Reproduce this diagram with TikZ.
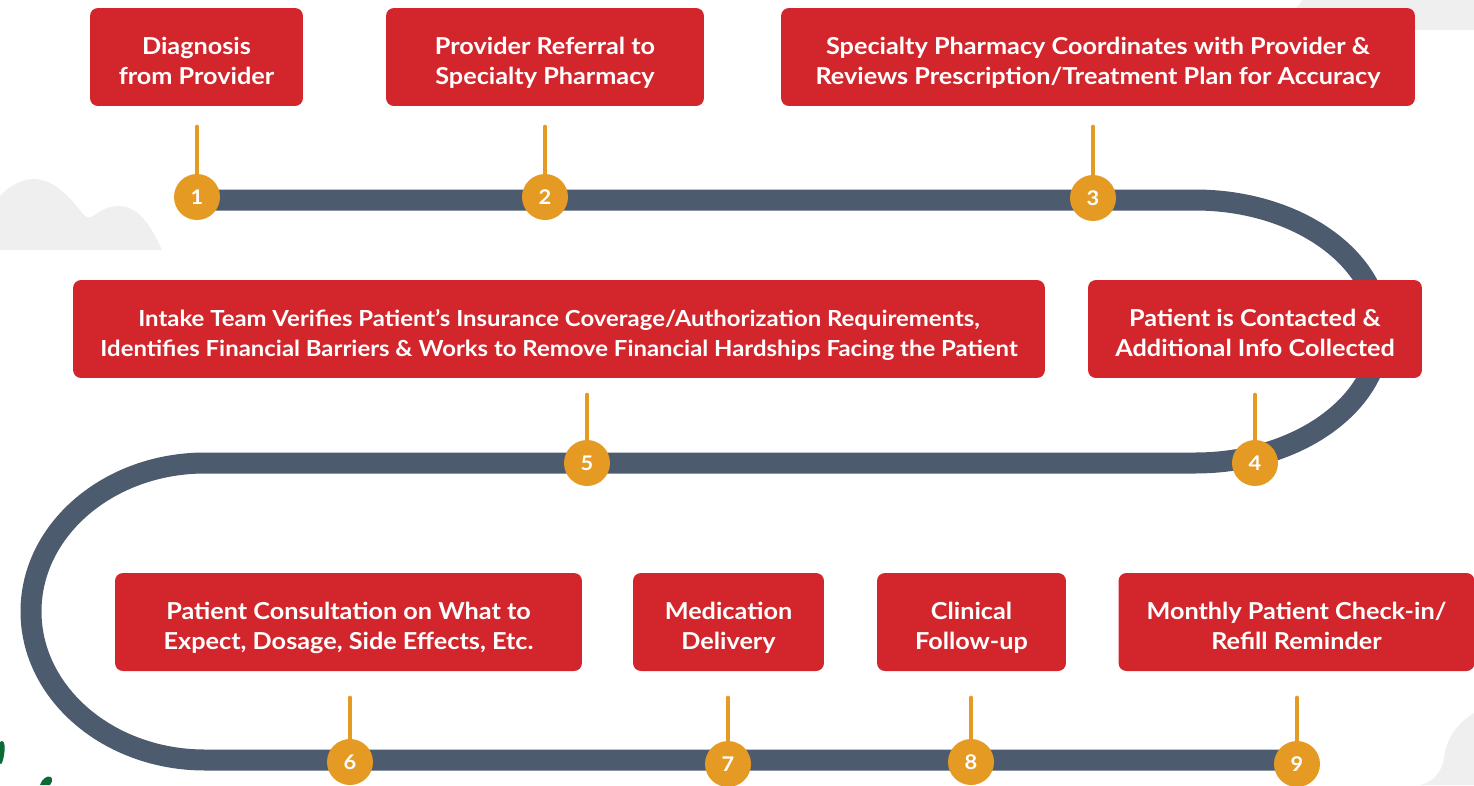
\documentclass[tikz,border=0pt]{standalone}
\usepackage{fontspec}
\setmainfont{Lato}[FakeStretch=1.08]
\usepackage{tikz}
\definecolor{stepred}{HTML}{D3262C}
\definecolor{gold}{HTML}{E59B23}
\definecolor{road}{HTML}{4D5B6F}
\definecolor{haze}{HTML}{EFEFEF}
\definecolor{leaf}{HTML}{0A6B35}
\tikzset{
  stepbox/.style={fill=stepred, rounded corners=4.5pt, text=white, align=center,
    inner sep=0pt, minimum height=1.96cm, text height=31pt, text depth=0pt,
    font=\fontsize{13.3}{17}\selectfont\bfseries},
  num/.style={circle, fill=gold, minimum size=0.92cm, inner sep=0pt, text=white,
    font=\fontsize{11.5}{12}\selectfont\bfseries},
  stem/.style={draw=gold, line width=0.08cm, line cap=round},
  road/.style={draw=road, line width=0.42cm},
  haze/.style={fill=haze},
}

\begin{document}
\begin{tikzpicture}[x=0.02cm, y=0.02cm]
  \useasboundingbox (0,0) rectangle (1474,-785);
  \clip (0,0) rectangle (1474,-785);
  % background shapes
  \fill[haze] (0,-250) -- (0,-196) .. controls (10,-185) and (22,-179) .. (35,-179)
    .. controls (56,-180) and (72,-200) .. (83,-214)
    .. controls (87,-219) and (91,-218) .. (96,-214)
    .. controls (104,-208) and (112,-206) .. (120,-206)
    .. controls (140,-207) and (152,-228) .. (162,-250) -- cycle;
  \fill[haze] (1302,0) .. controls (1299,-6) and (1296,-9) .. (1290,-10)
    -- (1290,-30) -- (1474,-30) -- (1474,0) -- cycle;
  \fill[haze] (1474,-713) .. controls (1456,-724) and (1446,-740) .. (1444,-758)
    .. controls (1442,-772) and (1433,-782) .. (1420,-785) -- (1474,-785) -- cycle;
  \fill[leaf] (0,-742) .. controls (5,-738) and (6,-748) .. (3,-760)
    .. controls (2,-764) and (0,-766) .. (0,-762) -- cycle;
  \fill[leaf] (40,-785) .. controls (42,-779) and (47,-775) .. (51,-777)
    .. controls (53,-780) and (52,-783) .. (50,-785) -- cycle;
  % the road
  \draw[road] (197,-200) -- (1195,-200)
    arc[start angle=90, end angle=-90, x radius=185, y radius=131.5]
    -- (205,-463)
    arc[start angle=90, end angle=270, x radius=174, y radius=148.5]
    -- (1297,-760);
  % step boxes
  \node[stepbox, minimum width=4.26cm] (b1) at (196.5,-57) {Diagnosis\\from Provider};
  \node[stepbox, minimum width=6.36cm] (b2) at (545,-57) {Provider Referral to\\Specialty Pharmacy};
  \node[stepbox, minimum width=12.68cm] (b3) at (1098,-57)
    {Specialty Pharmacy Coordinates with Provider \&\\Reviews Prescription/Treatment Plan for Accuracy};
  \node[stepbox, minimum width=6.68cm] (b4) at (1255,-329)
    {Patient is Contacted \&\\Additional Info Collected};
  \node[stepbox, minimum width=19.44cm, font=\fontsize{12.6}{17}\selectfont\bfseries] (b5) at (559,-329)
    {Intake Team Verifies Patient’s Insurance Coverage/Authorization Requirements,\\Identifies Financial Barriers \& Works to Remove Financial Hardships Facing the Patient};
  \node[stepbox, minimum width=9.34cm] (b6) at (348.5,-622)
    {Patient Consultation on What to\\Expect, Dosage, Side Effects, Etc.};
  \node[stepbox, minimum width=3.82cm] (b7) at (728.5,-622) {Medication\\Delivery};
  \node[stepbox, minimum width=3.78cm] (b8) at (971.5,-622) {Clinical\\Follow-up};
  \node[stepbox, minimum width=7.12cm] (b9) at (1296.5,-622)
    {Monthly Patient Check-in/\\Refill Reminder};
  % numbered stops
  \foreach \n/\x/\y in {1/197/197, 2/545/197, 3/1093/198, 4/1255/463, 5/587/463,
      6/350/762, 7/728/764, 8/971/762, 9/1297/764}
    \node[num] (n\n) at (\x,-\y) {\n};
  \foreach \n/\len in {1/47, 2/47, 3/48, 4/45, 5/45, 6/41, 7/43, 8/41, 9/43}
    \draw[stem] (n\n.north) -- ++(0,\len);
\end{tikzpicture}
\end{document}
